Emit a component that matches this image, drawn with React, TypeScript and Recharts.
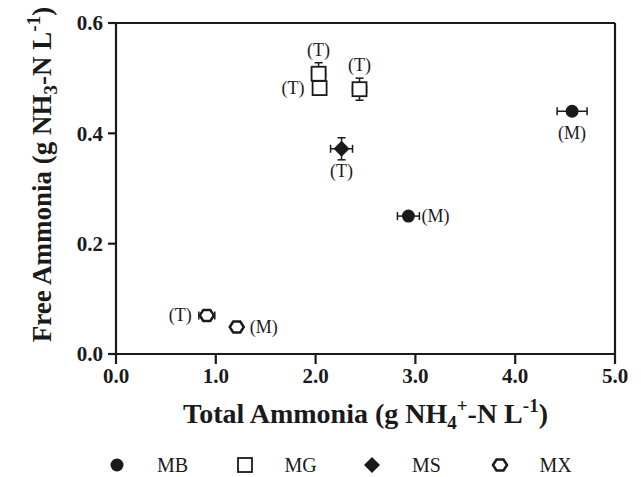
import { ErrorBar, Legend, ReferenceLine, Scatter, ScatterChart, XAxis, YAxis } from "recharts";

const FONT = '"Liberation Serif", "Times New Roman", serif';
const INK = "#1a1a1a";

// x = total ammonia (g NH4+-N/L), y = free ammonia (g NH3-N/L)
const mbTotal = [2.93, 4.57];
const mbFree = [0.25, 0.44];
const mbTotalErr = [0.11, 0.15];
const mbTags = ["(M)", "(M)"];

const mgTotal = [2.03, 2.04, 2.44];
const mgFree = [0.508, 0.482, 0.48];
const mgTotalErr = [0.07, 0, 0.07];
const mgFreeErr = [0.02, 0.005, 0.02];
const mgTags = ["(T)", "(T)", "(T)"];

const msTotal = [2.26];
const msFree = [0.372];
const msTotalErr = [0.11];
const msFreeErr = [0.02];
const msTags = ["(T)"];

const mxTotal = [0.91, 1.21];
const mxFree = [0.07, 0.049];
const mxTotalErr = [0.08, 0.03];
const mxTags = ["(T)", "(M)"];

const xTicks = [0, 1, 2, 3, 4, 5];
const yTicks = [0, 0.2, 0.4, 0.6];
const seriesNames = ["MB", "MG", "MS", "MX"];

// where each "(T)/(M)" note sits relative to its point
const tagPlacement: Record<string, string[]> = {
  MB: ["right", "below"],
  MG: ["above", "left", "above"],
  MS: ["below"],
  MX: ["left", "right"],
};

const build = (xs: number[], ys: number[], ex: number[], ey: number[] | null, tags: string[]) =>
  xs.map((x, i) => ({ x, y: ys[i], ex: ex[i], ey: ey ? ey[i] : 0, tag: tags[i], i }));

const mbData = build(mbTotal, mbFree, mbTotalErr, null, mbTags);
const mgData = build(mgTotal, mgFree, mgTotalErr, mgFreeErr, mgTags);
const msData = build(msTotal, msFree, msTotalErr, msFreeErr, msTags);
const mxData = build(mxTotal, mxFree, mxTotalErr, null, mxTags);

function Marker({ kind, cx, cy }: { kind: string; cx: number; cy: number }) {
  if (kind === "MB") return <circle cx={cx} cy={cy} r={6.5} fill={INK} />;
  if (kind === "MG")
    return <rect x={cx - 7} y={cy - 7} width={14} height={14} fill="#fff" stroke={INK} strokeWidth={1.8} />;
  if (kind === "MS")
    return <path d={`M${cx},${cy - 8}L${cx + 8},${cy}L${cx},${cy + 8}L${cx - 8},${cy}Z`} fill={INK} />;
  const pts = [
    [cx - 7, cy], [cx - 3.5, cy - 5.5], [cx + 3.5, cy - 5.5],
    [cx + 7, cy], [cx + 3.5, cy + 5.5], [cx - 3.5, cy + 5.5],
  ].map((p) => p.join(",")).join(" ");
  return <polygon points={pts} fill="#fff" stroke={INK} strokeWidth={2.5} />;
}

function Tag({ at, cx, cy, text }: { at: string; cx: number; cy: number; text: string }) {
  const common = { fontFamily: FONT, fontSize: 18, fill: INK };
  if (at === "right") return <text x={cx + 13} y={cy + 6} textAnchor="start" {...common}>{text}</text>;
  if (at === "left") return <text x={cx - 15} y={cy + 6} textAnchor="end" {...common}>{text}</text>;
  if (at === "above") return <text x={cx} y={cy - 18} textAnchor="middle" {...common}>{text}</text>;
  return <text x={cx} y={cy + 28} textAnchor="middle" {...common}>{text}</text>;
}

const makeShape = (kind: string) => (props: any) => {
  const { cx, cy, payload } = props;
  return (
    <g>
      <Marker kind={kind} cx={cx} cy={cy} />
      <Tag at={tagPlacement[kind][payload.i]} cx={cx} cy={cy} text={payload.tag} />
    </g>
  );
};

function XTitle(props: any) {
  const vb = props.viewBox || { x: 116, y: 354, width: 499 };
  return (
    <text x={vb.x + vb.width / 2} y={vb.y + 69} textAnchor="middle" fontFamily={FONT}
      fontWeight="bold" fontSize={28} fill={INK}>
      Total Ammonia (g NH<tspan dy={6} fontSize={19}>4</tspan>
      <tspan dy={-17} fontSize={19}>+</tspan>
      <tspan dy={11}>-N L</tspan>
      <tspan dy={-11} fontSize={19}>-1</tspan>
      <tspan dy={11}>)</tspan>
    </text>
  );
}

function YTitle(props: any) {
  const vb = props.viewBox || { x: 0, y: 23, width: 116, height: 331 };
  const cx = vb.x + 51;
  const cy = vb.y + vb.height / 2 - 14;
  return (
    <text x={cx} y={cy} transform={`rotate(-90, ${cx}, ${cy})`} textAnchor="middle"
      fontFamily={FONT} fontWeight="bold" fontSize={27} fill={INK}>
      Free Ammonia (g NH<tspan dy={6} fontSize={19}>3</tspan>
      <tspan dy={-6}>-N L</tspan>
      <tspan dy={-11} fontSize={19}>-1</tspan>
      <tspan dy={11}>)</tspan>
    </text>
  );
}

function LegendRow() {
  return (
    <div style={{ height: 24, display: "flex", paddingLeft: 105, fontFamily: FONT, fontSize: 20, color: INK }}>
      {seriesNames.map((name) => (
        <div key={name} style={{ width: 142, display: "flex", alignItems: "center" }}>
          <svg width={24} height={24} style={{ marginRight: 28 }}>
            <Marker kind={name} cx={12} cy={12} />
          </svg>
          <span style={{ lineHeight: "24px" }}>{name}</span>
        </div>
      ))}
    </div>
  );
}

const tickStyle = { fill: INK, fontFamily: FONT, fontWeight: "bold", fontSize: 21 };
const lineStyle = { stroke: INK, strokeWidth: 2.2 };

export default function App() {
  return (
    <div style={{ position: "fixed", left: 0, top: 0, background: "#fff" }}>
      <ScatterChart width={641} height={477} margin={{ top: 23, right: 26, bottom: 0, left: 0 }}>
        <XAxis type="number" dataKey="x" domain={[0, 5]} ticks={xTicks} interval={0}
          tickFormatter={(v: number) => v.toFixed(1)} height={99} tickSize={10} tickMargin={4}
          axisLine={lineStyle} tickLine={lineStyle} tick={tickStyle} label={<XTitle />} />
        <YAxis type="number" dataKey="y" domain={[0, 0.6]} ticks={yTicks} interval={0}
          tickFormatter={(v: number) => v.toFixed(1)} width={116} tickSize={8} tickMargin={5}
          axisLine={lineStyle} tickLine={lineStyle} tick={tickStyle} label={<YTitle />} />
        <ReferenceLine y={0.6} stroke={INK} strokeWidth={2.2} />
        <ReferenceLine x={5} stroke={INK} strokeWidth={2.2} />
        <Legend verticalAlign="bottom" content={() => <LegendRow />} />
        <Scatter name="MB" data={mbData} shape={makeShape("MB")} isAnimationActive={false}>
          <ErrorBar dataKey="ex" direction="x" width={4} stroke={INK} strokeWidth={1.5} />
        </Scatter>
        <Scatter name="MG" data={mgData} shape={makeShape("MG")} isAnimationActive={false}>
          <ErrorBar dataKey="ex" direction="x" width={4} stroke={INK} strokeWidth={1.5} />
          <ErrorBar dataKey="ey" direction="y" width={4} stroke={INK} strokeWidth={1.5} />
        </Scatter>
        <Scatter name="MS" data={msData} shape={makeShape("MS")} isAnimationActive={false}>
          <ErrorBar dataKey="ex" direction="x" width={4} stroke={INK} strokeWidth={1.5} />
          <ErrorBar dataKey="ey" direction="y" width={4} stroke={INK} strokeWidth={1.5} />
        </Scatter>
        <Scatter name="MX" data={mxData} shape={makeShape("MX")} isAnimationActive={false}>
          <ErrorBar dataKey="ex" direction="x" width={4} stroke={INK} strokeWidth={1.5} />
        </Scatter>
      </ScatterChart>
    </div>
  );
}
